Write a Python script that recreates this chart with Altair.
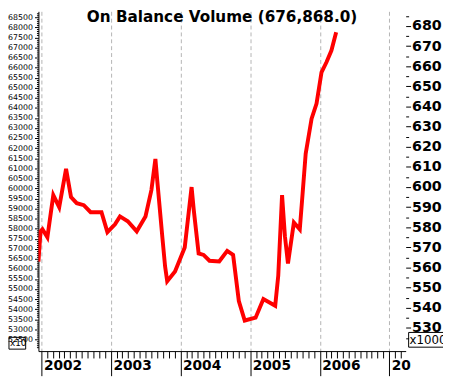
import altair as alt
import pandas as pd

title_text = "On Balance Volume (676,868.0)"

dates = [
    "2001-12-16", "2001-12-27", "2002-01-06", "2002-02-01", "2002-03-04", "2002-04-04",
    "2002-05-10", "2002-06-05", "2002-07-05", "2002-08-11", "2002-09-16", "2002-11-12",
    "2002-12-13", "2003-01-22", "2003-02-17", "2003-03-30", "2003-05-16", "2003-07-01",
    "2003-08-01", "2003-08-22", "2003-09-01", "2003-09-27", "2003-10-12", "2003-10-23",
    "2003-12-03", "2004-01-23", "2004-02-28", "2004-03-10", "2004-04-05", "2004-05-01",
    "2004-06-01", "2004-07-22", "2004-09-02", "2004-10-03", "2004-11-02", "2004-12-03",
    "2005-01-29", "2005-03-11", "2005-05-12", "2005-05-28", "2005-06-17", "2005-07-02",
    "2005-07-18", "2005-08-18", "2005-09-18", "2005-10-03", "2005-10-19", "2005-11-19",
    "2005-12-15", "2006-01-10", "2006-02-05", "2006-03-03", "2006-03-28",
]
obv = [
    563, 578, 579, 575, 596, 590,
    609, 595, 592, 591, 587.5, 587.5,
    577.6, 581.5, 585.4, 583, 578, 585.4,
    598.5, 614, 603, 575.6, 560.5, 553.2,
    558, 570, 600, 589, 567, 566.3,
    563.4, 563, 568.3, 566.3, 543.4, 533.7,
    535.1, 544.4, 541, 556, 596, 575.6,
    562, 582.4, 579, 597, 616.6, 634,
    641.5, 657, 662, 667.8, 676.868,
]

right_ticks = list(range(525, 690, 5))
left_ticks = list(range(52100, 68800, 100))
left_axis_values = [52100, 68700]

df = pd.DataFrame({"date": pd.to_datetime(dates), "obv": obv})

month_ticks = [alt.DateTime(year=y, month=m, date=1)
               for y in range(2002, 2008) for m in range(1, 13)
               if not (y == 2007 and m > 3)]

FONT = "DejaVu Sans"

x_axis = alt.Axis(
    values=month_ticks,
    labelExpr=("month(datum.value) !== 0 ? '' : "
               "(year(datum.value) >= 2007 ? '20' : timeFormat(datum.value, '%Y'))"),
    tickSize={"condition": {"test": "month(datum.value) === 0", "value": 25}, "value": 7},
    gridOpacity={"condition": {"test": "month(datum.value) === 0", "value": 1}, "value": 0},
    grid=True, gridColor="#b4b4b4", gridDash=[4, 3], gridWidth=1,
    labelAlign="left", labelBaseline="top", labelOffset=2, labelPadding=-17,
    labelFont=FONT, labelFontSize=14, labelFontWeight="bold", labelColor="black",
    labelOverlap=False, labelFlush=False,
    domainColor="black", tickColor="black", title=None,
)

y_right_axis = alt.Axis(
    orient="right", values=right_ticks,
    labelExpr="datum.value % 10 === 0 ? datum.label : ''",
    tickSize={"condition": {"test": "datum.value % 10 === 0", "value": 5}, "value": 3},
    labelPadding=1, domain=False, grid=False,
    labelFont=FONT, labelFontSize=14.5, labelFontWeight="bold", labelColor="black",
    labelOverlap=False, labelFlush=False, tickColor="black", title=None,
)

y_left_axis = alt.Axis(
    orient="left", values=left_ticks, format="d",
    labelExpr="datum.value % 500 === 0 ? datum.label : ''",
    tickSize={"condition": {"test": "datum.value % 500 === 0", "value": 4}, "value": 2},
    labelPadding=2, domainColor="black", grid=False,
    labelFont=FONT, labelFontSize=8, labelColor="black",
    labelOverlap=False, labelFlush=False, tickColor="black", title=None,
)

x_scale = alt.Scale(domain=[alt.DateTime(year=2001, month=12, date=16),
                            alt.DateTime(year=2007, month=3, date=28)])

line = alt.Chart(df).mark_line(color="#ff0000", strokeWidth=4, clip=True).encode(
    x=alt.X("date:T", scale=x_scale, axis=x_axis),
    y=alt.Y("obv:Q", scale=alt.Scale(domain=[518.5, 687.3], nice=False, zero=False), axis=y_right_axis),
)

left = alt.Chart(pd.DataFrame({"v": left_axis_values})).mark_point(opacity=0).encode(
    y=alt.Y("v:Q", scale=alt.Scale(domain=[51915, 68793], nice=False, zero=False), axis=y_left_axis),
)

lbl = pd.DataFrame({"t": [title_text]})
title = alt.Chart(lbl).mark_text(font=FONT, fontSize=15.5, fontWeight="bold", color="black",
                                 align="center", baseline="middle").encode(
    text="t:N", x=alt.value(187), y=alt.value(6))

mult = pd.DataFrame({"t": ["x10", "x1000"]})
box_l = alt.Chart(mult).transform_filter("datum.t == 'x10'").mark_rect(
    fillOpacity=0, stroke="black", strokeWidth=1).encode(
    x=alt.value(-30), x2=alt.value(-13), y=alt.value(332), y2=alt.value(344))
txt_l = alt.Chart(mult).transform_filter("datum.t == 'x10'").mark_text(
    font=FONT, fontSize=9, color="black", align="left", baseline="middle").encode(
    text="t:N", x=alt.value(-29), y=alt.value(338))
box_r = alt.Chart(mult).transform_filter("datum.t == 'x1000'").mark_rect(
    fillOpacity=0, stroke="black", strokeWidth=1).encode(
    x=alt.value(377), x2=alt.value(420), y=alt.value(327), y2=alt.value(342))
txt_r = alt.Chart(mult).transform_filter("datum.t == 'x1000'").mark_text(
    font=FONT, fontSize=12, color="black", align="left", baseline="middle").encode(
    text="t:N", x=alt.value(378), y=alt.value(335))

chart = alt.layer(line, left, title, box_l, txt_l, box_r, txt_r).resolve_scale(
    y="independent"
).properties(
    width=374, height=346,
    padding={"left": 31, "top": 0, "right": 38, "bottom": 25},
    autosize=alt.AutoSizeParams(type="none"),
    background="white",
).configure_view(strokeWidth=0)

chart.save("out.html", embed_options={"renderer": "svg", "actions": False})
